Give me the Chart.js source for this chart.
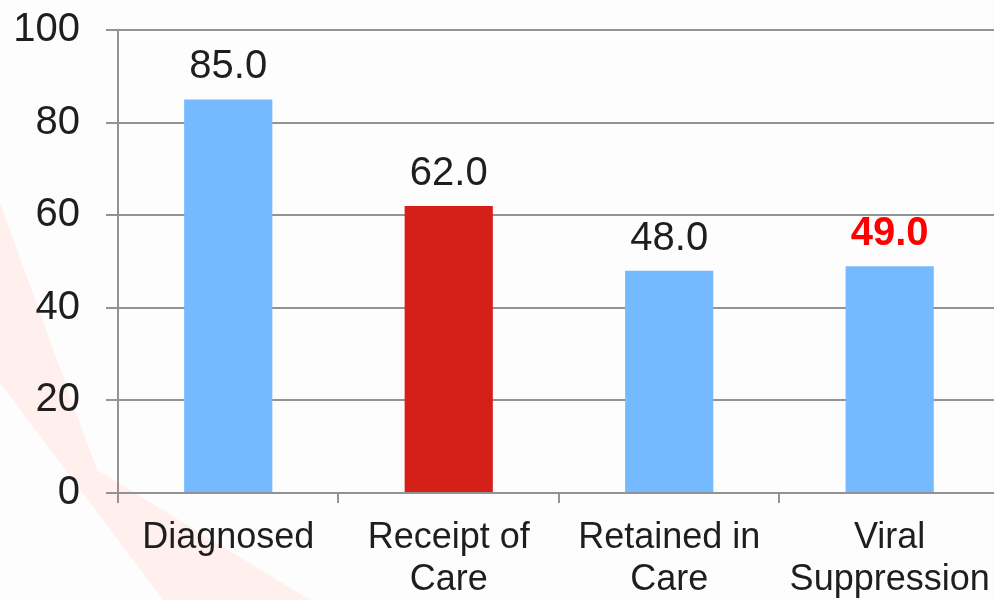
<!DOCTYPE html>
<html>
<head>
<meta charset="utf-8">
<script src="https://cdn.jsdelivr.net/npm/chart.js@4/dist/chart.umd.min.js"></script>
<style>
  html, body { margin: 0; padding: 0; background: #fdfdfd; overflow: hidden; }
  #wrap { width: 1004px; height: 620px; position: relative; top: -20px; }
</style>
</head>
<body>
<div id="wrap"><canvas id="graficoCascada"></canvas></div>
<script>
// datos de la cascada
const categorias = [['Diagnosed'], ['Receipt of', 'Care'], ['Retained in', 'Care'], ['Viral', 'Suppression']];
const valores = [85.0, 62.0, 48.0, 49.0];
const ticksY = [0, 20, 40, 60, 80, 100];

// estilos
const coloresBarras = ['#75b9ff', '#d42019', '#75b9ff', '#75b9ff'];
const coloresEtiquetas = ['#1e1e1e', '#1e1e1e', '#1e1e1e', '#ff0000'];
const negritaEtiquetas = [false, false, false, true];
const gris = '#939393';
const fuente = "'Liberation Sans', Arial, sans-serif";

// franja rosada del fondo (el canvas esta corrido 20px hacia arriba)
const fondoPlugin = {
    id: 'fondo',
    beforeDraw(chart) {
        const ctx = chart.ctx;
        ctx.save();
        ctx.fillStyle = '#fdfdfd';
        ctx.fillRect(0, 0, chart.width, chart.height);
        ctx.fillStyle = '#fff0ee';
        ctx.beginPath();
        ctx.moveTo(0, 223);
        ctx.lineTo(97, 490);
        ctx.lineTo(310, 620);
        ctx.lineTo(163, 620);
        ctx.lineTo(0, 403);
        ctx.closePath();
        ctx.fill();
        ctx.restore();
    }
};

// etiquetas sobre las barras
const etiquetasPlugin = {
    id: 'etiquetas',
    afterDatasetsDraw(chart) {
        const ctx = chart.ctx;
        const meta = chart.getDatasetMeta(0);
        ctx.save();
        ctx.textAlign = 'center';
        ctx.textBaseline = 'alphabetic';
        meta.data.forEach((barra, i) => {
            ctx.font = (negritaEtiquetas[i] ? 'bold ' : '') + '40px ' + fuente;
            ctx.fillStyle = coloresEtiquetas[i];
            ctx.fillText(valores[i].toFixed(1), barra.x, barra.y - 21);
        });
        ctx.restore();
    }
};

const ctx = document.getElementById('graficoCascada').getContext('2d');
new Chart(ctx, {
    type: 'bar',
    data: {
        labels: categorias,
        datasets: [{
            data: valores,
            backgroundColor: coloresBarras,
            categoryPercentage: 1.0,
            barPercentage: 0.4
        }]
    },
    options: {
        responsive: true,
        maintainAspectRatio: false,
        animation: false,
        layout: { padding: { top: 0, right: 2, left: 0, bottom: 0 } },
        plugins: {
            legend: { display: false },
            tooltip: { enabled: false }
        },
        scales: {
            x: {
                grid: {
                    display: true,
                    drawOnChartArea: false,
                    drawTicks: true,
                    tickLength: 10,
                    color: gris,
                    lineWidth: 2,
                    offset: true
                },
                border: { color: gris, width: 2 },
                ticks: {
                    color: '#1e1e1e',
                    padding: 14,
                    maxRotation: 0,
                    autoSkip: false,
                    font: { family: fuente, size: 36, lineHeight: 1.17 }
                },
                afterFit(scale) { scale.height = 107; }
            },
            y: {
                min: 0,
                max: 100,
                afterBuildTicks(scale) { scale.ticks = ticksY.map(v => ({ value: v })); },
                grid: {
                    color: gris,
                    lineWidth: 2,
                    tickLength: 12
                },
                border: { color: gris, width: 2 },
                ticks: {
                    color: '#1e1e1e',
                    padding: 26,
                    font: { family: fuente, size: 40 }
                },
                afterFit(scale) { scale.width = 118; }
            }
        }
    },
    plugins: [fondoPlugin, etiquetasPlugin]
});
</script>
</body>
</html>
